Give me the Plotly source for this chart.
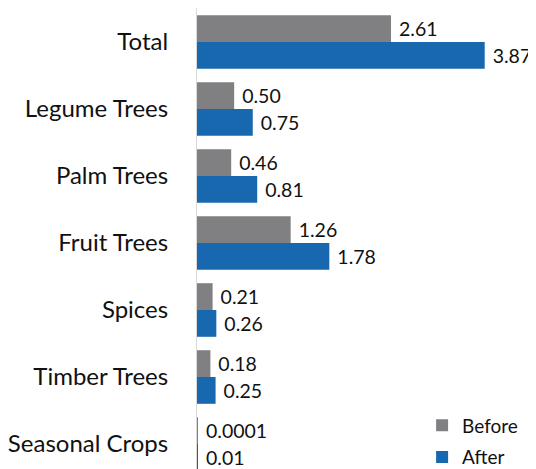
import plotly.graph_objects as go

categories = ["Total", "Legume Trees", "Palm Trees", "Fruit Trees", "Spices", "Timber Trees", "Seasonal Crops"]
before = [2.61, 0.50, 0.46, 1.26, 0.21, 0.18, 0.0001]
after = [3.87, 0.75, 0.81, 1.78, 0.26, 0.25, 0.01]
before_labels = ["2.61", "0.50", "0.46", "1.26", "0.21", "0.18", "0.0001"]
after_labels = ["3.87", "0.75", "0.81", "1.78", "0.26", "0.25", "0.01"]

FONT = "Lato"
fig = go.Figure()
fig.add_trace(go.Bar(
    y=categories, x=before, name="Before", orientation="h", legendgroup="b",
    marker=dict(color="#808083", line=dict(width=0)),
    text=before_labels, texttemplate=" %{text}", textposition="outside",
    textfont=dict(family=FONT, size=19.5, color="#111111"), cliponaxis=False,
))
fig.add_trace(go.Bar(
    y=categories, x=after, name="After", orientation="h", legendgroup="a",
    marker=dict(color="#1868B0", line=dict(width=0)),
    text=after_labels, texttemplate=" %{text}", textposition="outside",
    textfont=dict(family=FONT, size=19.5, color="#111111"), cliponaxis=False,
))

fig.update_layout(
    width=536, height=469,
    margin=dict(l=189, r=8, t=0, b=8, autoexpand=False),
    barmode="group", bargap=0.2, bargroupgap=0,
    plot_bgcolor="white", paper_bgcolor="white",
    font=dict(family=FONT, color="#111111"),
    showlegend=True,
    legend=dict(x=0.664, y=-0.016, xanchor="left", yanchor="bottom",
                font=dict(family=FONT, size=19, color="#111111"),
                traceorder="grouped", tracegroupgap=4,
                bgcolor="rgba(0,0,0,0)"),
)
fig.update_xaxes(range=[0, 4.56], showgrid=False, zeroline=False, automargin=False,
                 showticklabels=False, showline=False, ticks="")
fig.update_yaxes(type="category", categoryorder="array", categoryarray=categories,
                 range=[6.373, -0.507], showgrid=False, zeroline=False, automargin=False,
                 showline=True, linecolor="#d9d9d9", linewidth=1,
                 ticks="", ticklabelstandoff=23,
                 tickfont=dict(family=FONT, size=24, color="#111111"))

fig.write_html("out.html")
